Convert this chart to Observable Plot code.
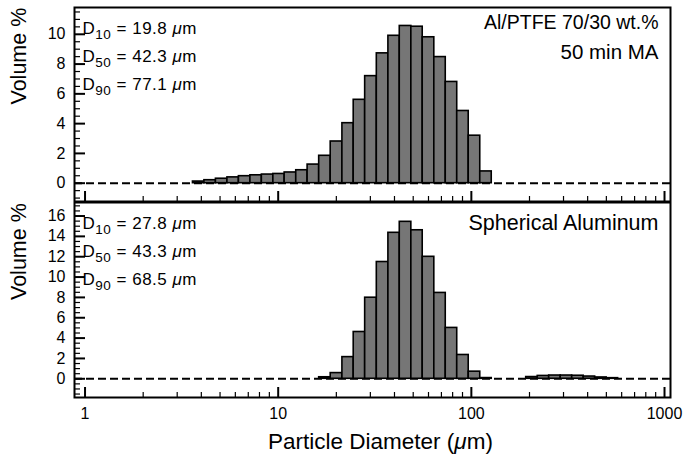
<!DOCTYPE html>
<html><head><meta charset="utf-8">
<script src="https://cdn.jsdelivr.net/npm/d3@7"></script>
<script src="https://cdn.jsdelivr.net/npm/@observablehq/plot@0.6"></script>
<style>body{margin:0;background:#fff;} svg{display:block;}</style>
</head><body><div id="chart"></div>
<script>
// Bin edges (µm), log-spaced as in the laser-diffraction histogram
const binEdges = [3.16, 3.62, 4.15, 4.76, 5.46, 6.26, 7.18, 8.23, 9.44, 10.8, 12.4, 14.2, 16.3, 18.7, 21.5, 24.6, 28.2, 32.4, 37.2, 42.6, 48.9, 56.0, 64.3, 73.7, 84.5, 96.9, 111.2, 127.5, 146.2, 167.7, 192.3, 220.6, 252.9, 290.1, 332.7, 381.5, 437.5, 501.7, 575.4, 659.9];
// Volume % per bin (null = empty bin)
const milledValues = [null, 0.11, 0.2, 0.3, 0.39, 0.47, 0.53, 0.58, 0.62, 0.72, 0.87, 1.25, 1.84, 2.8, 4.03, 5.6, 7.19, 8.72, 9.9, 10.56, 10.51, 9.8, 8.47, 6.8, 4.85, 3.19, 0.79, null, null, null, null, null, null, null, null, null, null, null, null];
const sphericalValues = [null, null, null, null, null, null, null, null, null, null, null, null, 0.15, 0.56, 2.13, 4.6, 7.97, 11.48, 14.35, 15.43, 14.6, 11.99, 8.44, 5.0, 2.34, 0.7, 0.07, null, null, null, 0.17, 0.28, 0.32, 0.32, 0.3, 0.22, 0.13, 0.06, null];
const milledStats = ["D10 = 19.8 μm", "D50 = 42.3 μm", "D90 = 77.1 μm"];
const sphericalStats = ["D10 = 27.8 μm", "D50 = 43.3 μm", "D90 = 68.5 μm"];
const milledTitle = ["Al/PTFE 70/30 wt.%", "50 min MA"];
const sphericalTitle = ["Spherical Aluminum"];
const xMajor = [1, 10, 100, 1000];
const xMinorDigits = [2, 3, 4, 5, 6, 7, 8, 9];
const yLabel = "Volume %";
const xLabel = "Particle Diameter (μm)";

const W = 683, ML = 74, MR = 13;
const areaW = W - ML - MR;
const font = "Liberation Sans, Arial, Helvetica, sans-serif";
const xDomain = [0.882, 1074];
const xMinor = [1, 10, 100].flatMap(p => xMinorDigits.map(d => d * p));

function bins(values) {
  return values.map((v, i) => ({lo: binEdges[i], hi: binEdges[i + 1], v})).filter(d => d.v != null);
}
function range(a, b, s) { const r = []; for (let v = a; v <= b + 1e-9; v += s) r.push(+v.toFixed(3)); return r; }

function panel({values, yDomain, majors, minorRange, stats, titles, titleSizes, titleDy, height, marginTop, marginBottom, bottomAxis}) {
  const areaH = height - marginTop - marginBottom;
  const minors = range(...minorRange, 0.5).filter(v => !majors.includes(v));
  const marks = [
    Plot.ruleY([0], {stroke: "black", strokeWidth: 2, strokeDasharray: "8,4"}),
    Plot.rectY(bins(values), {x1: "lo", x2: "hi", y: "v", fill: "#767676", stroke: "black", strokeWidth: 1.6}),
    Plot.ruleY(majors, {y: d => d, insetRight: areaW - 11, strokeWidth: 2}),
    Plot.ruleY(minors, {y: d => d, insetRight: areaW - 6, strokeWidth: 1.2}),
    Plot.ruleX(xMajor, {x: d => d, insetTop: areaH - 10, strokeWidth: 2}),
    Plot.ruleX(xMinor, {x: d => d, insetTop: areaH - 5, strokeWidth: 1.2}),
    Plot.frame({stroke: "black", strokeWidth: 2}),
    Plot.axisY(majors, {tickSize: 0, tickPadding: 9, fontSize: 16, label: null}),
    Plot.text([yLabel], {frameAnchor: "left", dx: -55, rotate: -90, fontSize: 21.5, lineAnchor: "middle"}),
    ...stats.map((s, i) => Plot.text([s], {frameAnchor: "top-left", dx: 8, dy: 26.5 + i * 28, lineAnchor: "bottom", textAnchor: "start", fontSize: 17})),
    ...titles.map((s, i) => Plot.text([s], {frameAnchor: "top-right", dx: -12, dy: titleDy + i * 30, lineAnchor: "bottom", textAnchor: "end", fontSize: titleSizes[i]}))
  ];
  if (bottomAxis) {
    marks.push(Plot.axisX(xMajor, {tickSize: 0, tickPadding: 10, fontSize: 16, tickFormat: d => String(d), label: null}));
    marks.push(Plot.text([xLabel], {frameAnchor: "bottom", dx: 8, dy: 44, lineAnchor: "middle", fontSize: 22.5}));
  }
  return Plot.plot({
    width: W, height, marginLeft: ML, marginRight: MR, marginTop, marginBottom,
    style: {fontFamily: font, fontSize: "15px", background: "white", color: "black"},
    x: {type: "log", domain: xDomain, ...(bottomAxis ? {} : {axis: null})},
    y: {domain: yDomain},
    marks
  });
}

function richText(svg) {
  d3.select(svg).selectAll("text").each(function() {
    const t = this.textContent;
    const el = d3.select(this);
    let m = t.match(/^D(\d+) = (.+) μm$/);
    if (m) {
      el.text(null).attr("letter-spacing", "0.5");
      el.append("tspan").text("D");
      el.append("tspan").attr("font-size", "13.5px").attr("dy", "5").text(m[1]);
      el.append("tspan").attr("dy", "-5").text(` = ${m[2]} `);
      el.append("tspan").attr("font-style", "italic").text("μ");
      el.append("tspan").text("m");
      return;
    }
    if (t === xLabel) {
      const [a, b] = t.split("μ");
      el.text(null);
      el.append("tspan").text(a);
      el.append("tspan").attr("font-style", "italic").text("μ");
      el.append("tspan").text(b);
    }
  });
  return svg;
}

const topPanel = panel({values: milledValues, yDomain: [-1.23, 11.8], majors: range(0, 10, 2), minorRange: [-1, 11.5], stats: milledStats, titles: milledTitle, titleSizes: [19.5, 20.5], titleDy: 21.5, height: 202, marginTop: 7, marginBottom: 1, bottomAxis: false});
const bottomPanel = panel({values: sphericalValues, yDomain: [-1.84, 17.33], majors: range(0, 16, 2), minorRange: [-1.5, 17], stats: sphericalStats, titles: sphericalTitle, titleSizes: [21.5], titleDy: 27, height: 255, marginTop: 0, marginBottom: 60, bottomAxis: true});
document.getElementById("chart").append(richText(topPanel), richText(bottomPanel));
</script>
</body></html>
